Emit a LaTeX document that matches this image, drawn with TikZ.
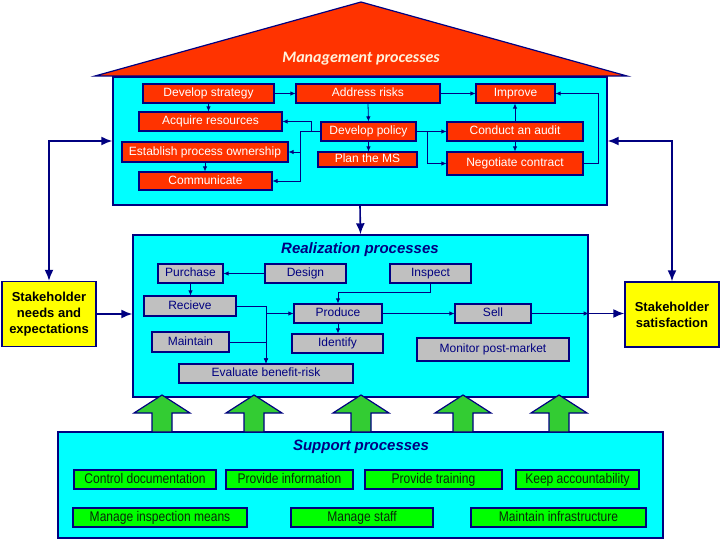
\documentclass[tikz,border=0pt]{standalone}
\usepackage{fontspec}
\setmainfont{Liberation Sans}
\newfontfamily\rooffont{Carlito}
\newfontfamily\narrowfont[FakeStretch=0.86]{Liberation Sans}
\usetikzlibrary{arrows.meta,calc,positioning}
\definecolor{cnavy}{HTML}{000080}
\definecolor{cred}{HTML}{FF3300}
\definecolor{ccyan}{HTML}{00FFFF}
\definecolor{cgray}{HTML}{C0C0C0}
\definecolor{cgreen}{HTML}{00FF00}
\definecolor{carrow}{HTML}{33CC33}
\definecolor{cgtext}{HTML}{0A280A}
\definecolor{cyel}{HTML}{FFFF00}
\definecolor{croof}{HTML}{FFF3DC}

\begin{document}
\begin{tikzpicture}[x=1pt, y=-1pt,
    area/.style={draw=cnavy, fill=ccyan, line width=1.4pt, inner sep=0pt},
    ttl/.style={font=\fontsize{15}{18}\selectfont\bfseries\itshape, text=cnavy},
    mbox/.style={draw=cnavy, fill=cred, line width=1.1pt, inner sep=0pt, minimum height=19,
      text height=8.6pt, text depth=2.4pt, text=white, font=\fontsize{12}{14}\selectfont},
    rbox/.style={draw=cnavy, fill=cgray, line width=1.1pt, inner sep=0pt, minimum height=19,
      text height=8.6pt, text depth=2.4pt, text=cnavy, font=\fontsize{12}{14}\selectfont},
    gbox/.style={draw=cnavy, fill=cgreen, line width=1.1pt, inner sep=0pt, minimum height=19,
      text height=9.8pt, text depth=2.8pt, text=cgtext, font=\narrowfont\fontsize{14}{16}\selectfont},
    sh/.style={draw=cnavy, fill=cyel, line width=1.4pt, inner sep=0pt, minimum width=94,
      minimum height=65, align=center, font=\fontsize{13}{16}\selectfont\bfseries},
    pt/.style={->, >={Latex[length=5pt,width=4.5pt]}, cnavy, line width=0.8pt},
    bpt/.style={->, >={Latex[length=11pt,width=9pt]}, cnavy, line width=1.6pt},
    blk/.style={draw=cnavy, fill=carrow, line width=1.2pt, line join=miter}]
  \useasboundingbox (0,0) rectangle (721,540);

  \filldraw[fill=cred, draw=cnavy, line width=1.2pt] (95,76) -- (361,2) -- (627,76) -- cycle;
  \node[font=\rooffont\fontsize{16}{19}\selectfont\bfseries\itshape, text=croof] (mtitle) at (361,59) {Management processes};
  \node[area, minimum width=494, minimum height=128] (mgmt) at (360,141) {};
  \node[area, minimum width=455, minimum height=162] (real) at (360.5,316) {};
  \node[area, minimum width=605, minimum height=106] (supp) at (360.5,485) {};
  \node[ttl] (rtitle) at (360,250) {Realization processes};
  \node[ttl] (stitle) at (361,447) {Support processes};

  \node[sh] (need) at (49,314) {Stakeholder\\needs and\\expectations};
  \node[sh] (sat) at (672,314.5) {Stakeholder\\satisfaction};

  \node[mbox, minimum width=131] (strat) at (208.5,93.5) {Develop strategy};
  \node[mbox, minimum width=144] (risks) at (368,93.5) {Address risks};
  \node[mbox, minimum width=79] (impr) at (515.5,93.5) {Improve};
  \node[mbox, minimum width=143] (acq) at (210.5,121.5) {Acquire resources};
  \node[mbox, minimum width=95] (pol) at (368.5,131.5) {Develop policy};
  \node[mbox, minimum width=136] (audit) at (515,131.5) {Conduct an audit};
  \node[mbox, minimum width=166, minimum height=20] (own) at (205,152) {Establish process ownership};
  \node[mbox, minimum width=99, minimum height=15] (plan) at (367.5,159.5) {Plan the MS};
  \node[mbox, minimum width=136, minimum height=23] (nego) at (515,163.5) {Negotiate contract};
  \node[mbox, minimum width=133, minimum height=18] (comm) at (205.5,181) {Communicate};

  \draw[pt] (strat.south) -- (strat.south |- acq.north);
  \draw[pt] (strat.east) -- (risks.west);
  \draw[pt] (risks.east) -- (impr.west);
  \draw[pt] (risks.south) -- (pol.north);
  \draw[pt] (pol.south) -- (pol.south |- plan.north);
  \draw[pt] (pol.west) -- ++(-9,0) |- (acq.east);
  \draw[pt] (pol.west) -- ++(-20,0) |- (own.east);
  \draw[pt] (pol.west) -- ++(-20,0) |- (comm.east);
  \draw[pt] (own.south) -- (own.south |- comm.north);
  \draw[pt] (pol.east) -- (audit.west);
  \draw[pt] (pol.east) -- ++(11,0) |- (nego.west);
  \draw[pt] (audit.north) -- (audit.north |- impr.south);
  \draw[pt] (audit.south) -- (audit.south |- nego.north);
  \draw[pt] (nego.east) -- ++(15,0) |- (impr.east);

  \node[rbox, minimum width=65] (purch) at (190.5,273.5) {Purchase};
  \node[rbox, minimum width=81] (design) at (305.5,273.5) {Design};
  \node[rbox, minimum width=81] (insp) at (430.5,273.5) {Inspect};
  \node[rbox, minimum width=92, minimum height=20] (rec) at (190,306) {Recieve};
  \node[rbox, minimum width=88] (prod) at (338,313.5) {Produce};
  \node[rbox, minimum width=76] (sell) at (493,313.5) {Sell};
  \node[rbox, minimum width=77, minimum height=20] (maint) at (190.5,342) {Maintain};
  \node[rbox, minimum width=91] (ident) at (337.5,343.5) {Identify};
  \node[rbox, minimum width=152, minimum height=23] (monit) at (493,349.5) {Monitor post-market};
  \node[rbox, minimum width=174] (eval) at (266,373.5) {Evaluate benefit-risk};

  \draw[pt] (design.west) -- (purch.east);
  \draw[pt] (purch.south) -- (purch.south |- rec.north);
  \draw[pt] (insp.south) -- ++(0,9) -| (prod.north);
  \draw[pt] (rec.east) -| (eval.north);
  \draw[pt] (maint.east) -| (eval.north);
  \draw[pt] (rec.east -| eval.north) |- (prod.west);
  \draw[pt] (prod.south) -- (prod.south |- ident.north);
  \draw[pt] (prod.east) -- (sell.west);
  \coordinate (out) at (sell.east -| real.east);
  \draw[pt] (sell.east) -- (out);
  \draw[bpt] (out) -- (out -| sat.west);

  \node[gbox, minimum width=142] (cdoc) at (145,479.5) {Control documentation};
  \node[gbox, minimum width=127] (pinfo) at (289.5,479.5) {Provide information};
  \node[gbox, minimum width=137] (ptrain) at (433.5,479.5) {Provide training};
  \node[gbox, minimum width=123] (kacc) at (577.5,479.5) {Keep accountability};
  \node[gbox, minimum width=174] (minsp) at (160,517.5) {Manage inspection means};
  \node[gbox, minimum width=142] (mstaff) at (362,517.5) {Manage staff};
  \node[gbox, minimum width=175] (minfra) at (558.5,517.5) {Maintain infrastructure};

  \foreach \x in {162,254,361,463,559}
    \filldraw[blk] (\x,395) -- ++(28,18) -- ++(-18,0) -- ++(0,19) -- ++(-20,0) -- ++(0,-19) -- ++(-18,0) -- cycle;

  \draw[bpt] (mgmt.south) -- (real.north);
  \draw[bpt, <->] (need.north) |- (mgmt.west);
  \draw[bpt, <->] (sat.north) |- (mgmt.east);
  \draw[bpt] (need.east) -- (need.east -| real.west);
\end{tikzpicture}
\end{document}
